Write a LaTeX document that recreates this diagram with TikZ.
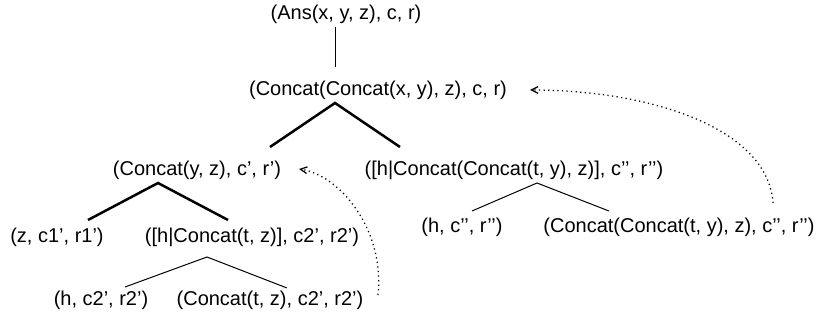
\documentclass[tikz,border=0pt]{standalone}
\usepackage{fontspec}
\setmainfont{Liberation Sans}
\usetikzlibrary{arrows.meta}

\begin{document}
\begin{tikzpicture}[
  x=0.6pt, y=-0.6pt,
  term/.style={inner sep=0pt, font=\fontsize{12}{14}\selectfont},
  thinedge/.style={line width=0.6pt},
  thickedge/.style={line width=1.5pt},
  backarrow/.style={-{Straight Barb[length=4pt, width=4pt]}, dotted, line width=0.75pt}
]
\useasboundingbox (0,0) rectangle (820,325);

% Terms
\node[term] (ans)  at (346, 14)  {(Ans(x, y, z), c, r)};
\node[term] (root) at (378, 90)  {(Concat(Concat(x, y), z), c, r)};
\node[term] (cyz)  at (197,170)  {(Concat(y, z), c', r')};
\node[term] (hcty) at (514,170)  {([h|Concat(Concat(t, y), z)], c'{}', r'{}')};
\node[term] (zc1)  at (57, 237)  {(z, c1', r1')};
\node[term] (htz)  at (252,237)  {([h|Concat(t, z)], c2', r2')};
\node[term] (hc2)  at (101,300)  {(h, c2', r2')};
\node[term] (ctz)  at (270,300)  {(Concat(t, z), c2', r2')};
\node[term] (hc3)  at (462,227)  {(h, c'{}', r'{}')};
\node[term] (ccty) at (679,227)  {(Concat(Concat(t, y), z), c'{}', r'{}')};

% Branch points
\coordinate (ansB)  at (335, 27);
\coordinate (rootT) at (335, 67);
\coordinate (rootB) at (335,103);
\coordinate (cyzT)  at (270,147);
\coordinate (hctyT) at (400,147);
\coordinate (cyzB)  at (158,183);
\coordinate (zc1T)  at (88, 220);
\coordinate (htzT)  at (228,220);
\coordinate (htzB)  at (207,257);
\coordinate (hc2T)  at (125,287);
\coordinate (ctzT)  at (287,288);
\coordinate (hctyB) at (537,183);
\coordinate (hc3T)  at (472,211);
\coordinate (cctyT) at (609,211);

% Tree edges
\draw[thinedge]  (ansB) -- (rootT);
\draw[thickedge] (cyzT) -- (rootB) -- (hctyT);
\draw[thickedge] (zc1T) -- (cyzB) -- (htzT);
\draw[thinedge]  (hc2T) -- (htzB) -- (ctzT);
\draw[thinedge]  (hc3T) -- (hctyB) -- (cctyT);

% Back links
\coordinate (cctyR) at (773,203);
\coordinate (rootR) at (530, 90);
\coordinate (ctzR)  at (378,295);
\coordinate (cyzR)  at (299,169);
\draw[backarrow] (cctyR) .. controls (768,128) and (650,90) .. (rootR);
\draw[backarrow] (ctzR)  .. controls (385,230) and (340,175) .. (cyzR);

\end{tikzpicture}
\end{document}
